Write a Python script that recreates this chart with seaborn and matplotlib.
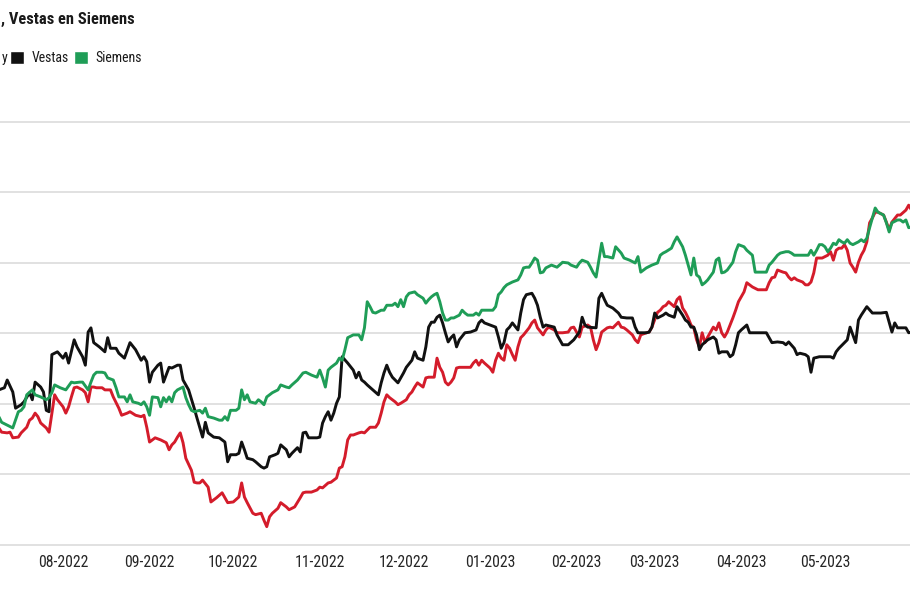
import matplotlib
matplotlib.use('Agg')
import matplotlib.pyplot as plt
import matplotlib.dates as mdates
from matplotlib.patches import Patch
from matplotlib import font_manager
import seaborn as sns
import pandas as pd

# day offsets from 1 July 2022 and the relative value
start = pd.Timestamp('2022-07-01')

# red series (its name is cut off in the picture, only the final "y" shows)
red_points = [
    (8, 16.6), (9, 16.0), (11, 15.9), (12, 16.0), (13, 15.2), (15, 15.3), (16, 15.9), (18, 16.7),
    (19, 17.7), (20, 18.0), (21, 18.7), (22, 18.2), (23, 17.3), (25, 16.6), (26, 16.0), (27, 18.7),
    (28, 21.3), (29, 20.6), (31, 19.6), (32, 18.7), (33, 19.6), (34, 21.0), (35, 22.3), (36, 22.4),
    (38, 22.0), (39, 21.6), (40, 20.3), (41, 22.4), (42, 22.4), (43, 22.3), (45, 22.3), (46, 22.0),
    (48, 22.0), (49, 21.0), (51, 19.4), (52, 18.4), (54, 18.7), (55, 18.9), (57, 18.4), (59, 18.2),
    (60, 18.4), (61, 16.7), (62, 14.6), (64, 15.2), (66, 14.9), (68, 14.5), (69, 13.5), (70, 14.2),
    (71, 14.6), (72, 15.3), (73, 15.9), (74, 14.5), (75, 12.3), (77, 10.6), (78, 8.9), (79, 8.8),
    (80, 8.8), (81, 9.2), (83, 8.2), (84, 6.1), (86, 6.7), (88, 7.4), (89, 6.7), (90, 6.0),
    (92, 6.1), (94, 6.8), (95, 8.8), (96, 6.8), (97, 6.0), (99, 4.5), (100, 4.3), (102, 4.5),
    (103, 3.5), (104, 2.6), (105, 4.0), (106, 4.5), (108, 5.2), (109, 6.0), (111, 5.4), (112, 5.0),
    (114, 5.4), (116, 6.7), (117, 7.4), (118, 7.5), (120, 7.5), (122, 7.8), (123, 8.2), (124, 8.1),
    (126, 8.8), (127, 8.9), (128, 9.2), (129, 9.5), (130, 10.9), (131, 11.1), (132, 12.5), (133, 14.9),
    (134, 15.6), (135, 15.6), (137, 15.9), (138, 16.0), (139, 15.9), (140, 16.3), (141, 16.7), (143, 16.7),
    (144, 17.3), (145, 18.7), (146, 20.3), (147, 21.3), (148, 20.9), (150, 20.3), (151, 19.9), (152, 20.1),
    (154, 20.6), (155, 21.3), (156, 21.7), (157, 22.4), (158, 23.0), (160, 22.4), (161, 23.7), (162, 23.8),
    (164, 23.8), (165, 26.5), (166, 25.2), (167, 24.5), (168, 23.1), (169, 22.7), (170, 23.1), (171, 23.7),
    (172, 25.1), (173, 25.2), (175, 25.2), (177, 25.2), (178, 25.8), (179, 26.2), (180, 25.5), (181, 26.2),
    (182, 25.8), (184, 25.1), (185, 24.5), (186, 26.2), (187, 27.2), (188, 26.5), (189, 26.2), (190, 28.4),
    (191, 27.9), (192, 27.0), (193, 26.2), (194, 28.1), (195, 29.4), (196, 29.8), (198, 30.8), (199, 31.5),
    (200, 31.9), (201, 30.8), (203, 29.8), (204, 30.5), (205, 30.9), (207, 30.5), (208, 30.1), (210, 30.1),
    (212, 30.2), (213, 30.8), (214, 30.9), (216, 29.5), (217, 30.9), (219, 31.2), (220, 30.9), (221, 29.1),
    (222, 27.7), (223, 28.7), (224, 30.2), (225, 30.5), (226, 30.8), (227, 30.9), (228, 30.8), (230, 31.6),
    (231, 30.9), (232, 30.8), (233, 30.5), (235, 29.8), (236, 29.1), (237, 28.7), (238, 29.8), (240, 30.1),
    (241, 30.2), (242, 30.9), (244, 33.0), (245, 33.3), (246, 33.8), (247, 34.0), (248, 34.5), (250, 33.8),
    (251, 34.8), (252, 35.2), (253, 33.6), (254, 33.0), (255, 32.2), (256, 31.2), (257, 30.8), (258, 29.1),
    (259, 28.1), (260, 30.1), (261, 28.7), (262, 29.5), (263, 30.2), (264, 30.9), (265, 30.5), (266, 31.5),
    (267, 30.1), (268, 29.5), (269, 30.2), (270, 31.2), (271, 32.2), (272, 33.3), (273, 34.5), (275, 35.9),
    (276, 37.2), (278, 36.6), (280, 36.2), (283, 36.2), (284, 37.2), (285, 37.9), (286, 38.0), (287, 39.0),
    (289, 38.7), (290, 38.6), (291, 38.0), (292, 37.6), (293, 37.9), (294, 37.6), (296, 37.3), (297, 36.9),
    (298, 36.9), (299, 37.3), (300, 38.6), (301, 40.7), (303, 40.7), (305, 41.1), (306, 41.6), (307, 40.4),
    (308, 41.8), (309, 42.1), (310, 42.1), (311, 42.6), (312, 41.8), (313, 40.0), (314, 39.4), (315, 38.7),
    (316, 40.1), (317, 41.1), (318, 41.8), (319, 43.0), (320, 45.7), (321, 46.4), (322, 47.2), (323, 47.2),
    (325, 46.8), (326, 45.8), (327, 44.7), (328, 45.8), (330, 46.8), (331, 46.8), (333, 47.5), (334, 48.2),
    (335, 47.5),
]

vestas_points = [
    (8, 22.0), (10, 22.3), (11, 23.4), (13, 21.7), (14, 19.4), (16, 19.9), (17, 20.3), (19, 21.6),
    (20, 20.6), (21, 23.1), (23, 22.4), (24, 21.7), (25, 19.1), (26, 18.9), (27, 27.0), (29, 27.4),
    (31, 26.5), (32, 27.2), (33, 25.8), (35, 29.1), (36, 28.1), (38, 26.7), (39, 25.5), (40, 30.2),
    (41, 30.8), (42, 28.7), (44, 28.1), (46, 27.4), (47, 29.4), (48, 27.9), (50, 27.9), (51, 27.2),
    (53, 26.5), (55, 28.7), (57, 27.7), (59, 26.2), (60, 26.7), (61, 26.0), (62, 23.1), (63, 24.5),
    (65, 25.5), (66, 25.8), (67, 23.1), (69, 25.2), (70, 25.1), (72, 25.5), (73, 25.5), (74, 23.4),
    (76, 22.0), (78, 19.4), (79, 18.0), (81, 15.3), (82, 17.4), (83, 15.9), (85, 15.3), (87, 15.2),
    (89, 14.6), (90, 11.8), (91, 12.8), (93, 12.8), (94, 13.0), (95, 14.6), (96, 13.5), (97, 12.3),
    (99, 12.1), (100, 11.8), (102, 11.1), (103, 10.9), (104, 11.1), (105, 12.5), (107, 12.8), (108, 13.0),
    (109, 14.2), (111, 13.5), (112, 12.5), (113, 13.0), (115, 13.8), (116, 13.2), (117, 15.9), (118, 16.0),
    (119, 15.2), (122, 15.2), (123, 15.3), (124, 17.3), (125, 18.2), (126, 18.9), (127, 17.7), (128, 18.7),
    (129, 20.1), (130, 21.0), (131, 26.7), (133, 25.8), (135, 24.8), (136, 23.7), (137, 24.5), (138, 23.4),
    (139, 23.1), (140, 22.7), (142, 22.0), (144, 21.3), (145, 23.0), (146, 24.4), (147, 25.5), (148, 24.5),
    (149, 23.8), (151, 23.0), (152, 23.7), (153, 24.4), (154, 25.2), (156, 26.2), (157, 27.4), (158, 26.5),
    (160, 26.2), (161, 28.1), (162, 30.9), (163, 31.6), (164, 31.6), (165, 32.3), (166, 32.6), (167, 31.5),
    (168, 30.1), (169, 28.8), (170, 29.4), (171, 29.8), (172, 28.1), (173, 29.1), (175, 30.1), (177, 30.2),
    (179, 30.5), (180, 31.5), (181, 31.9), (182, 31.5), (184, 31.2), (186, 30.9), (187, 29.5), (188, 27.9),
    (189, 28.7), (190, 30.5), (191, 30.9), (192, 31.5), (194, 30.5), (195, 32.9), (196, 34.8), (197, 35.5),
    (199, 35.7), (200, 35.0), (201, 34.0), (202, 32.3), (203, 30.9), (204, 31.2), (207, 30.9), (208, 29.8),
    (210, 28.4), (212, 28.4), (214, 29.1), (216, 30.2), (217, 32.3), (218, 31.2), (219, 30.9), (222, 30.8),
    (223, 35.0), (224, 35.7), (225, 34.8), (226, 34.0), (228, 33.6), (230, 32.9), (231, 32.3), (233, 32.2),
    (235, 32.2), (236, 30.9), (237, 30.1), (238, 30.1), (240, 30.1), (241, 30.2), (242, 30.9), (243, 32.9),
    (244, 32.2), (246, 32.6), (247, 32.9), (248, 32.6), (250, 32.3), (251, 33.8), (253, 32.6), (254, 31.9),
    (255, 31.6), (256, 30.9), (257, 30.9), (258, 29.8), (259, 27.7), (260, 28.4), (262, 29.1), (264, 29.5),
    (265, 29.1), (266, 27.2), (267, 27.4), (269, 27.4), (270, 26.7), (271, 27.0), (272, 28.4), (273, 30.1),
    (274, 30.5), (276, 31.2), (277, 30.1), (280, 30.1), (283, 30.1), (284, 29.4), (285, 28.7), (287, 28.8),
    (289, 28.7), (290, 28.4), (291, 28.8), (293, 27.9), (294, 27.0), (295, 27.2), (297, 27.0), (298, 26.7),
    (299, 24.5), (300, 26.5), (302, 26.7), (304, 26.7), (306, 26.7), (307, 26.5), (308, 27.4), (309, 27.9),
    (311, 28.7), (312, 29.1), (313, 30.9), (314, 29.8), (315, 28.7), (316, 31.9), (317, 32.6), (319, 33.8),
    (321, 32.9), (324, 32.9), (326, 33.0), (327, 31.6), (328, 30.2), (329, 31.5), (330, 30.8), (333, 30.8),
    (334, 30.1), (335, 30.2),
]

siemens_points = [
    (8, 18.2), (9, 17.4), (11, 17.0), (13, 16.6), (15, 18.9), (16, 19.1), (17, 19.6), (18, 21.3),
    (20, 22.0), (21, 21.3), (23, 21.0), (25, 20.6), (26, 20.9), (27, 21.6), (28, 22.7), (30, 22.3),
    (32, 22.0), (34, 23.1), (35, 23.0), (37, 23.1), (38, 23.1), (40, 22.0), (41, 23.1), (42, 24.1),
    (43, 24.5), (45, 24.5), (46, 24.4), (47, 23.7), (49, 23.4), (50, 22.3), (51, 21.0), (53, 21.0),
    (54, 20.3), (55, 21.3), (56, 20.3), (58, 20.1), (59, 19.9), (60, 20.3), (61, 19.6), (62, 18.4),
    (63, 21.0), (65, 20.9), (66, 19.6), (67, 20.9), (68, 20.3), (69, 21.0), (70, 20.3), (71, 21.6),
    (72, 22.0), (74, 22.4), (75, 20.9), (76, 19.9), (77, 19.1), (78, 18.9), (80, 19.1), (81, 18.7),
    (82, 19.4), (83, 18.2), (85, 18.0), (87, 17.7), (88, 17.7), (89, 18.2), (90, 17.7), (91, 19.1),
    (93, 19.1), (94, 19.4), (95, 22.0), (96, 20.6), (97, 21.3), (98, 20.3), (100, 20.1), (101, 20.6),
    (102, 20.3), (103, 19.9), (104, 21.0), (106, 21.6), (108, 22.0), (109, 22.7), (111, 22.4), (112, 22.3),
    (113, 22.7), (115, 23.4), (117, 24.4), (118, 24.5), (120, 24.1), (122, 23.8), (123, 24.8), (124, 23.7),
    (125, 22.4), (126, 24.8), (127, 25.2), (129, 25.8), (130, 26.5), (131, 26.2), (132, 27.7), (133, 29.4),
    (135, 29.8), (137, 29.8), (138, 29.1), (139, 30.8), (140, 34.5), (141, 33.8), (142, 33.0), (143, 32.9),
    (145, 33.3), (146, 33.3), (147, 34.0), (149, 34.0), (150, 34.3), (151, 33.8), (152, 34.8), (153, 33.8),
    (154, 35.2), (155, 35.7), (157, 35.9), (158, 35.5), (160, 35.0), (161, 34.3), (162, 34.8), (163, 35.2),
    (164, 35.5), (165, 35.7), (166, 34.5), (167, 32.9), (168, 31.9), (169, 31.9), (170, 32.2), (171, 32.2),
    (173, 32.6), (174, 33.3), (175, 32.9), (176, 32.6), (178, 32.6), (179, 32.9), (180, 32.6), (181, 33.3),
    (183, 33.3), (185, 33.3), (186, 33.8), (187, 35.5), (188, 35.9), (189, 36.5), (190, 36.9), (192, 37.3),
    (194, 37.6), (195, 38.3), (196, 39.3), (197, 39.4), (198, 39.4), (199, 40.0), (200, 40.7), (201, 40.4),
    (202, 38.6), (203, 38.7), (204, 39.3), (206, 39.7), (208, 39.4), (210, 40.1), (212, 40.0), (213, 39.7),
    (215, 39.4), (216, 40.0), (217, 40.4), (219, 40.1), (220, 39.4), (221, 38.6), (222, 38.0), (223, 40.4),
    (224, 42.8), (225, 40.9), (226, 40.9), (228, 40.7), (229, 42.3), (231, 41.4), (232, 40.7), (234, 40.4),
    (236, 40.0), (237, 40.9), (238, 38.7), (240, 39.3), (242, 39.7), (244, 40.0), (245, 41.1), (246, 41.4),
    (247, 41.6), (249, 42.1), (250, 43.0), (251, 43.7), (253, 42.3), (254, 41.1), (255, 39.7), (256, 38.3),
    (257, 40.7), (258, 38.3), (259, 38.0), (260, 36.9), (261, 37.2), (262, 37.6), (264, 38.7), (265, 40.4),
    (266, 40.7), (267, 38.6), (268, 38.7), (269, 39.0), (271, 40.1), (272, 41.6), (273, 42.6), (275, 42.3),
    (276, 41.8), (278, 41.1), (279, 38.7), (281, 38.7), (283, 38.7), (284, 39.7), (285, 40.1), (287, 41.1),
    (288, 41.4), (290, 41.6), (291, 41.6), (292, 41.4), (293, 41.1), (296, 41.1), (298, 41.1), (299, 41.8),
    (300, 41.1), (301, 41.8), (302, 42.6), (303, 42.6), (304, 42.3), (305, 41.6), (306, 42.1), (307, 42.8),
    (308, 42.6), (309, 43.3), (310, 43.0), (311, 42.8), (312, 43.3), (313, 42.8), (314, 42.6), (316, 43.0),
    (317, 43.3), (318, 43.0), (319, 43.5), (320, 45.0), (321, 46.4), (322, 47.8), (323, 47.2), (325, 46.8),
    (326, 45.7), (327, 44.4), (328, 45.7), (330, 46.1), (331, 46.1), (332, 45.8), (333, 46.1), (334, 45.0),
    (335, 45.1),
]

series_order = ['red', 'Vestas', 'Siemens']
colors = {'red': '#d41c2b', 'Vestas': '#111111', 'Siemens': '#1f9d57'}

frames = []
for name, pts in zip(series_order, [red_points, vestas_points, siemens_points]):
    d = pd.DataFrame(pts, columns=['day', 'value'])
    d['date'] = start + pd.to_timedelta(d['day'], unit='D')
    d['series'] = name
    frames.append(d)
df = pd.concat(frames, ignore_index=True)

sns.set_theme(style='white')
# pick a narrow family if the machine has one
installed = {f.name for f in font_manager.fontManager.ttflist}
narrow = [f for f in ['Roboto Condensed', 'Liberation Sans Narrow', 'Open Sans Condensed',
                      'Noto Sans Condensed', 'DejaVu Sans Condensed'] if f in installed]
plt.rcParams['font.family'] = narrow + ['DejaVu Sans']
plt.rcParams['font.stretch'] = 'condensed'
scale = 1.0 if narrow else 0.82

fig = plt.figure(figsize=(9.1, 5.96), dpi=100)
ax = fig.add_axes([0, 48 / 596, 1, 460 / 596])

sns.lineplot(data=df, x='date', y='value', hue='series', hue_order=series_order,
             palette=colors, estimator=None, linewidth=2.1, legend=False, ax=ax)

ax.set_xlim(start + pd.Timedelta(days=8.42), start + pd.Timedelta(days=334.47))
ax.set_ylim(-0.43, 64.82)
ax.set_yticks(range(0, 61, 10))
ax.tick_params(axis='y', length=0, labelleft=False)
ax.grid(axis='y', color='#dcdcdc', linewidth=1.2)
ax.grid(axis='x', visible=False)
for s in ax.spines.values():
    s.set_visible(False)

ax.xaxis.set_major_locator(mdates.MonthLocator())
ax.xaxis.set_major_formatter(mdates.DateFormatter('%m-%Y'))
ax.tick_params(axis='x', length=0, pad=5, labelsize=11.3 * scale, labelcolor='#262626')
ax.set_xlabel('')
ax.set_ylabel('')

fig.text(1 / 910, 1 - 19 / 596, ', Vestas en Siemens', fontsize=11.9 * scale, fontweight='bold',
         ha='left', va='center', color='#1a1a1a')

handles = [Patch(facecolor=colors['Vestas'], label='Vestas'),
           Patch(facecolor=colors['Siemens'], label='Siemens')]
fig.legend(handles=handles, loc='center left', bbox_to_anchor=(10 / 910, 1 - 58 / 596),
           ncol=2, frameon=False, fontsize=10 * scale, handlelength=1.0 / scale,
           handleheight=1.1 / scale, handletextpad=0.55, columnspacing=0.35,
           borderpad=0, borderaxespad=0, labelcolor='#1a1a1a')
fig.text(8 / 910, 1 - 58 / 596, 'y', ha='right', va='center', fontsize=10 * scale, color='#1a1a1a')

fig.savefig('out.png', dpi=100)
plt.close(fig)
